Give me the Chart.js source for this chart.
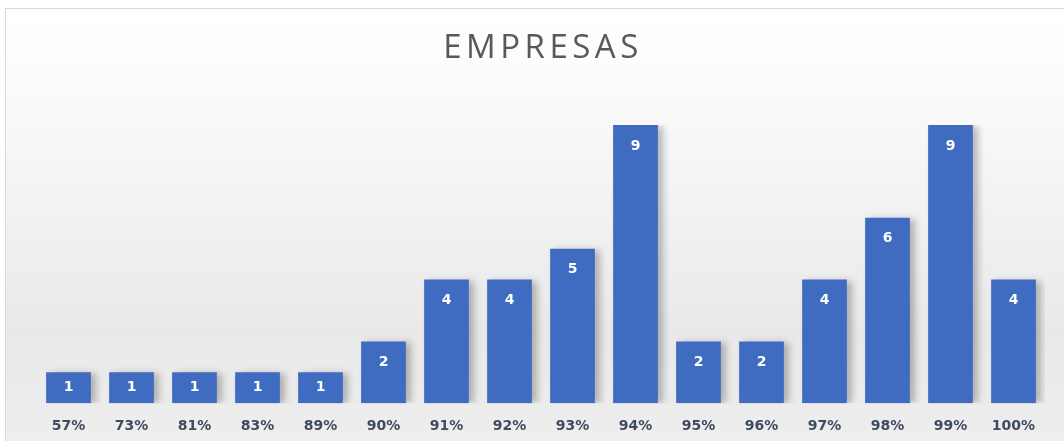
<!DOCTYPE html>
<html>
<head>
<meta charset="utf-8">
<script src="https://cdn.jsdelivr.net/npm/chart.js@4/dist/chart.umd.min.js"></script>
<style>
  html, body { margin: 0; padding: 0; background: #fff; }
  #wrap { width: 1064px; height: 441px; position: relative; }
</style>
</head>
<body>
<div id="wrap"><canvas id="chart" width="1064" height="441"></canvas></div>
<script>
const labels = ["57%", "73%", "81%", "83%", "89%", "90%", "91%", "92%", "93%", "94%", "95%", "96%", "97%", "98%", "99%", "100%"];
const empresas = [1, 1, 1, 1, 1, 2, 4, 4, 5, 9, 2, 2, 4, 6, 9, 4];
const title = "EMPRESAS";

// panel background + border
const panelBg = {
  id: "panelBg",
  beforeDraw(chart) {
    const ctx = chart.ctx;
    const x = 5, y = 8, w = chart.width - 5, h = chart.height - 8;
    const g = ctx.createLinearGradient(0, y, 0, y + h);
    g.addColorStop(0, "#ffffff");
    g.addColorStop(0.15, "#fcfcfc");
    g.addColorStop(0.75, "#e9e9e9");
    g.addColorStop(1, "#eeeeee");
    ctx.save();
    ctx.fillStyle = g;
    ctx.fillRect(x, y, w, h);
    ctx.strokeStyle = "#d9d9d9";
    ctx.lineWidth = 1;
    ctx.strokeRect(x + 0.5, y + 0.5, w, h);
    ctx.restore();
  }
};

// spaced-out title, drawn above the plot
const spacedTitle = {
  id: "spacedTitle",
  afterDraw(chart) {
    const ctx = chart.ctx;
    const a = chart.chartArea;
    ctx.save();
    ctx.letterSpacing = "4.5px";
    ctx.fillStyle = "#595959";
    ctx.font = "33px 'Open Sans', 'Noto Sans', sans-serif";
    ctx.textAlign = "center";
    ctx.textBaseline = "alphabetic";
    ctx.fillText(title, (a.left + a.right) / 2 + 2, 58);
    ctx.restore();
  }
};

// soft shadow behind bars
const barShadow = {
  id: "barShadow",
  beforeDatasetsDraw(chart) {
    const ctx = chart.ctx;
    ctx.save();
    ctx.shadowColor = "rgba(60,60,60,0.35)";
    ctx.shadowBlur = 7;
    ctx.shadowOffsetX = 5;
    ctx.shadowOffsetY = 1;
  },
  afterDatasetsDraw(chart) {
    chart.ctx.restore();
  }
};

// white value labels inside the bar tops
const valueLabels = {
  id: "valueLabels",
  afterDatasetsDraw(chart) {
    const ctx = chart.ctx;
    const meta = chart.getDatasetMeta(0);
    ctx.save();
    ctx.fillStyle = "#ffffff";
    ctx.font = "bold 14px 'DejaVu Sans', Verdana, sans-serif";
    ctx.textAlign = "center";
    ctx.textBaseline = "middle";
    meta.data.forEach((bar, i) => {
      const off = Math.min(21, (bar.base - bar.y) / 2);
      ctx.fillText(String(empresas[i]), bar.x, bar.y + off);
    });
    ctx.restore();
  }
};

new Chart(document.getElementById("chart"), {
  type: "bar",
  data: {
    labels,
    datasets: [{
      label: title,
      data: empresas,
      backgroundColor: c => {
        const area = c.chart.chartArea;
        const el = c.element;
        if (!area || !el || el.width === undefined) return "#3f6cc0";
        const x0 = el.x - el.width / 2;
        const g = c.chart.ctx.createLinearGradient(x0, 0, x0 + el.width, 0);
        g.addColorStop(0, "#3b67b8");
        g.addColorStop(0.5, "#4472c4");
        g.addColorStop(1, "#3a63b0");
        return g;
      },
      borderWidth: 0,
      categoryPercentage: 1,
      barPercentage: 0.71
    }]
  },
  options: {
    responsive: false,
    animation: false,
    layout: { padding: { left: 37, right: 19, top: 125, bottom: -9 } },
    plugins: {
      legend: { display: false },
      tooltip: { enabled: false },
      title: { display: false }
    },
    scales: {
      x: {
        grid: { display: false, drawTicks: false },
        border: { display: false },
        ticks: {
          color: "#3f4b5f",
          padding: 15,
          font: { family: "'DejaVu Sans', Verdana, sans-serif", size: 14, weight: "bold" }
        }
      },
      y: {
        display: false,
        min: 0,
        max: 9
      }
    }
  },
  plugins: [panelBg, barShadow, valueLabels, spacedTitle]
});
</script>
</body>
</html>
